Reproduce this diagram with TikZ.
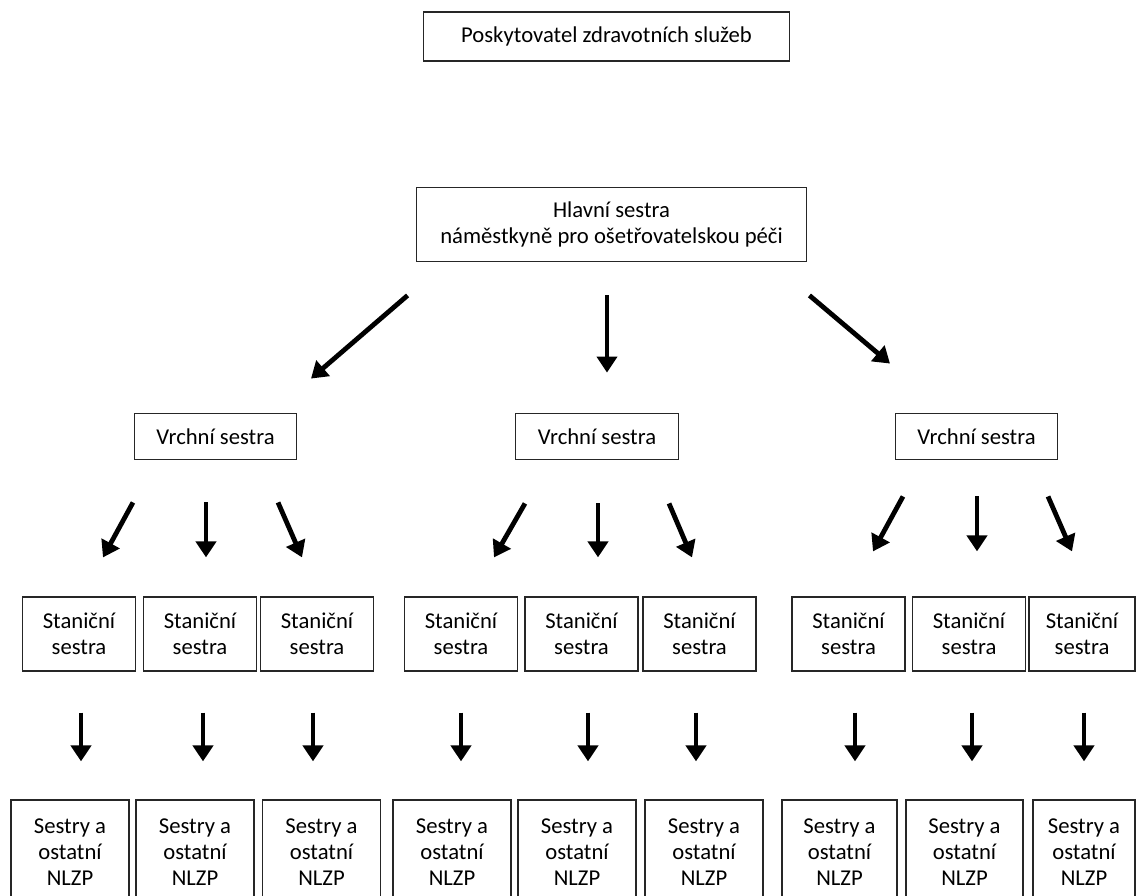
\documentclass[tikz,border=0pt]{standalone}
\usepackage{fontspec}
\setmainfont{Carlito}
\usepackage{tikz}
\usetikzlibrary{arrows.meta, positioning, calc}

\begin{document}
\begin{tikzpicture}[
  x=0.75pt, y=-0.75pt,
  box/.style={draw=black!85, line width=0.9pt, align=center, inner sep=0pt, font=\fontsize{17}{19.5}\selectfont},
  topbox/.style={box, minimum width=275pt, minimum height=36.75pt},
  headbox/.style={box, minimum width=293pt, minimum height=56pt},
  vrch/.style={box, minimum width=122pt, minimum height=35pt},
  stan/.style={box, minimum width=84.75pt, minimum height=55.5pt},
  nlzp/.style={box, minimum width=88.5pt, minimum height=78.75pt},
  down/.style={-{Triangle[length=12pt, width=15pt]}, line width=3.6pt}
]
\path[use as bounding box, fill=white] (0,0) rectangle (1136,896);
\clip (0,0) rectangle (1136,896);

% Top: provider and head nurse
\node[topbox] (P) at (606.5,36.5) {Poskytovatel zdravotních služeb};
\node[headbox] (H) at (611.5,224.5) {Hlavní sestra\\náměstkyně pro ošetřovatelskou péči};

% Head nurses of the departments
\node[vrch] (V1) at (215.5,436.5) {Vrchní sestra};
\node[vrch] (V2) at (597,436.5) {Vrchní sestra};
\node[vrch] (V3) at (976.5,436.5) {Vrchní sestra};
\draw[down] ($(H.south west)+(-8,33)$) -- ($(V1.north)+(95.5,-34)$);
\draw[down] ($(H.south)+(-4.5,33)$) -- ($(V2.north)+(10,-40)$);
\draw[down] ($(H.south east)+(2,33)$) -- ($(V3.north)+(-86.5,-49)$);

% Ward nurses
\node[stan] (S1) at (79,634) {Staniční\\sestra};
\node[stan] (S2) at (200,634) {Staniční\\sestra};
\node[stan] (S3) at (317,634) {Staniční\\sestra};
\node[stan] (S4) at (461,634) {Staniční\\sestra};
\node[stan] (S5) at (581.5,634) {Staniční\\sestra};
\node[stan] (S6) at (699.5,634) {Staniční\\sestra};
\node[stan] (S7) at (848.5,634) {Staniční\\sestra};
\node[stan] (S8) at (969,634) {Staniční\\sestra};
\node[stan, minimum width=79.5pt] (S9) at (1082,634) {Staniční\\sestra};

\draw[down] ($(V1.south)+(-82.5,42)$) -- ($(S1.north)+(24,-39)$);
\draw[down] ($(V1.south)+(-9.5,42)$) -- ($(S2.north)+(6,-39)$);
\draw[down] ($(V1.south)+(62.5,42)$) -- ($(S3.north)+(-15,-39)$);
\draw[down] ($(V2.south)+(-72,43)$) -- ($(S4.north)+(33,-39)$);
\draw[down] ($(V2.south)+(1,43)$) -- ($(S5.north)+(16.5,-39)$);
\draw[down] ($(V2.south)+(72,43)$) -- ($(S6.north)+(-7.5,-39)$);
\draw[down] ($(V3.south)+(-73.5,36)$) -- ($(S7.north)+(24.5,-45)$);
\draw[down] ($(V3.south)+(0.5,36)$) -- ($(S8.north)+(8,-45)$);
\draw[down] ($(V3.south)+(71.5,36)$) -- ($(S9.north)+(-10,-45)$);

% Nurses and other staff
\node[nlzp] (N1) at (70,852.5) {Sestry a\\ostatní\\NLZP};
\node[nlzp] (N2) at (195,852.5) {Sestry a\\ostatní\\NLZP};
\node[nlzp] (N3) at (321.5,852.5) {Sestry a\\ostatní\\NLZP};
\node[nlzp] (N4) at (452,852.5) {Sestry a\\ostatní\\NLZP};
\node[nlzp] (N5) at (577,852.5) {Sestry a\\ostatní\\NLZP};
\node[nlzp] (N6) at (704,852.5) {Sestry a\\ostatní\\NLZP};
\node[nlzp, minimum width=86.25pt] (N7) at (839.5,852.5) {Sestry a\\ostatní\\NLZP};
\node[nlzp, minimum width=87.75pt] (N8) at (964.5,852.5) {Sestry a\\ostatní\\NLZP};
\node[nlzp, minimum width=76.5pt] (N9) at (1084,852.5) {Sestry a\\ostatní\\NLZP};

\draw[down] ($(S1.south)+(2,41)$) -- ($(N1.north)+(11,-38)$);
\draw[down] ($(S2.south)+(3,41)$) -- ($(N2.north)+(8,-38)$);
\draw[down] ($(S3.south)+(-4,41)$) -- ($(N3.north)+(-8.5,-38)$);
\draw[down] ($(S4.south)+(0,41)$) -- ($(N4.north)+(9,-38)$);
\draw[down] ($(S5.south)+(6.5,41)$) -- ($(N5.north)+(11,-38)$);
\draw[down] ($(S6.south)+(-3.5,41)$) -- ($(N6.north)+(-8,-38)$);
\draw[down] ($(S7.south)+(6.5,41)$) -- ($(N7.north)+(15.5,-38)$);
\draw[down] ($(S8.south)+(3,41)$) -- ($(N8.north)+(7.5,-38)$);
\draw[down] ($(S9.south)+(2,41)$) -- ($(N9.north)+(0,-38)$);

\end{tikzpicture}
\end{document}
